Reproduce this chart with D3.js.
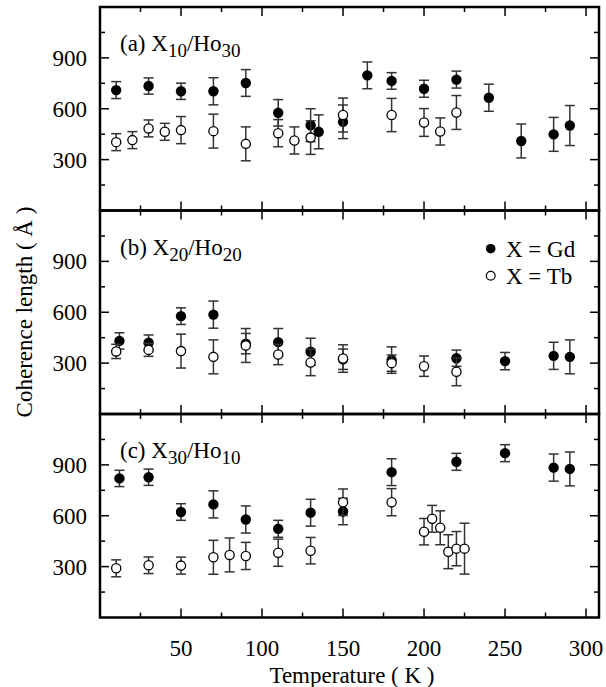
<!DOCTYPE html>
<html>
<head>
<meta charset="utf-8">
<script src="https://cdn.jsdelivr.net/npm/d3@7"></script>
<style>
  html, body { margin: 0; padding: 0; background: #fff; }
  svg text { font-family: "Liberation Serif", "Times New Roman", "DejaVu Serif", serif; fill: #000; }
</style>
</head>
<body>
<svg id="chart" width="606" height="687"></svg>
<script>
// ---- data: [temperature K, coherence length Å, error Å] ----
const gdA = [[10,710,50],[30,734,48],[50,703,48],[70,703,80],[90,752,79],[110,576,78],[130,503,97],[135,464,100],[150,523,99],[165,797,79],[180,764,49],[200,718,50],[220,772,50],[240,665,80],[260,410,100],[280,449,100],[290,501,118]];
const tbA = [[10,403,50],[20,415,50],[30,484,50],[40,464,50],[50,474,80],[70,468,100],[90,393,100],[110,456,80],[120,413,80],[130,430,99],[150,563,100],[180,563,98],[200,519,82],[210,466,80],[220,578,100]];
const gdB = [[12,431,48],[30,420,46],[50,577,49],[70,586,80],[90,415,60],[110,424,80],[130,367,80],[150,323,60],[180,318,78],[220,329,48],[250,312,51],[280,343,80],[290,337,100]];
const tbB = [[10,369,42],[30,378,38],[50,371,100],[70,337,100],[90,404,100],[110,351,60],[130,304,78],[150,327,81],[180,300,48],[200,282,60],[220,249,82]];
const gdC = [[12,820,48],[30,827,48],[50,622,49],[70,667,80],[90,578,80],[110,523,50],[130,618,79],[150,625,78],[180,857,79],[220,918,50],[250,969,50],[280,884,80],[290,876,100]];
const tbC = [[10,290,50],[30,308,49],[50,306,50],[70,355,100],[80,369,100],[90,363,80],[110,382,80],[130,394,78],[150,680,78],[180,680,80],[200,506,78],[205,582,79],[210,529,100],[215,388,100],[220,406,101],[225,406,150]];

const panelNames = ["a", "b", "c"];
const panelX = ["10", "20", "30"];
const panelHo = ["30", "20", "10"];
const xTickLabels = [50, 100, 150, 200, 250, 300];
const yTickLabels = [300, 600, 900];
const legendLabels = ["X = Gd", "X = Tb"];
const xTitle = "Temperature ( K )";
const yTitle = "Coherence length ( Å )";

(function () {
  const svg = d3.select("#chart");
  const leftX = 100, rightX = 599, topY = 7, panelH = 203.5;
  const x = d3.scaleLinear().domain([0, 308]).range([leftX, rightX]);
  const panels = [
    { gd: gdA, tb: tbA },
    { gd: gdB, tb: tbB },
    { gd: gdC, tb: tbC }
  ];
  const fs = 23, fsSub = 19;

  panels.forEach((p, i) => {
    const y0 = topY + i * panelH;
    const y = d3.scaleLinear().domain([0, 1200]).range([y0 + panelH, y0]);
    const g = svg.append("g");

    const xMajor = d3.range(50, 309, 50), xMinor = d3.range(25, 309, 50);
    const yMajor = d3.range(300, 1200, 300), yMinor = d3.range(150, 1200, 300);
    const tick = (x1, y1, x2, y2) => g.append("line").attr("x1", x1).attr("y1", y1).attr("x2", x2).attr("y2", y2)
        .attr("stroke", "#000").attr("stroke-width", 1.5);
    xMajor.forEach(t => { tick(x(t), y0, x(t), y0 + 9); tick(x(t), y0 + panelH, x(t), y0 + panelH - 9); });
    xMinor.forEach(t => { tick(x(t), y0, x(t), y0 + 5); tick(x(t), y0 + panelH, x(t), y0 + panelH - 5); });
    yMajor.forEach(v => { tick(leftX, y(v), leftX + 9, y(v)); tick(rightX, y(v), rightX - 9, y(v)); });
    yMinor.forEach(v => { tick(leftX, y(v), leftX + 5, y(v)); tick(rightX, y(v), rightX - 5, y(v)); });

    yTickLabels.forEach(v => {
      g.append("text").attr("x", 87).attr("y", y(v)).attr("dy", "0.35em")
        .attr("text-anchor", "end").attr("font-size", fs).text(v);
    });

    g.append("rect").attr("x", leftX).attr("y", y0).attr("width", rightX - leftX).attr("height", panelH)
      .attr("fill", "none").attr("stroke", "#000").attr("stroke-width", 2.5);

    const lab = g.append("text").attr("x", 120).attr("y", y0 + 44).attr("font-size", fs);
    lab.append("tspan").text("(" + panelNames[i] + ") X");
    lab.append("tspan").attr("font-size", fsSub).attr("dy", 6).text(panelX[i]);
    lab.append("tspan").attr("dy", -6).text("/Ho");
    lab.append("tspan").attr("font-size", fsSub).attr("dy", 6).text(panelHo[i]);

    const drawSeries = (data, filled) => {
      const s = g.append("g");
      data.forEach(d => {
        const cx = x(d[0]);
        s.append("line").attr("x1", cx).attr("x2", cx).attr("y1", y(d[1] - d[2])).attr("y2", y(d[1] + d[2]))
          .attr("stroke", "#333").attr("stroke-width", 1.5);
        [d[1] - d[2], d[1] + d[2]].forEach(v => {
          s.append("line").attr("x1", cx - 5).attr("x2", cx + 5).attr("y1", y(v)).attr("y2", y(v))
            .attr("stroke", "#333").attr("stroke-width", 1.5);
        });
      });
      s.selectAll("circle").data(data).enter().append("circle")
        .attr("cx", d => x(d[0])).attr("cy", d => y(d[1]))
        .attr("r", filled ? 5.2 : 4.6)
        .attr("fill", filled ? "#000" : "#fff")
        .attr("stroke", "#000").attr("stroke-width", filled ? 0 : 1.3);
    };
    drawSeries(p.gd, true);
    drawSeries(p.tb, false);

    if (i === 1) {
      const lx = 490.7;
      [[248.7, true], [275.7, false]].forEach((e, k) => {
        g.append("circle").attr("cx", lx).attr("cy", e[0]).attr("r", e[1] ? 4.8 : 4.4)
          .attr("fill", e[1] ? "#000" : "#fff").attr("stroke", "#000").attr("stroke-width", e[1] ? 0 : 1.2);
        g.append("text").attr("x", 506).attr("y", e[0]).attr("dy", "0.36em").attr("font-size", fs).text(legendLabels[k]);
      });
    }
  });

  xTickLabels.forEach(t => {
    svg.append("text").attr("x", x(t)).attr("y", 656).attr("text-anchor", "middle").attr("font-size", fs).text(t);
  });

  svg.append("text").attr("x", 352).attr("y", 683).attr("text-anchor", "middle").attr("font-size", fs).text(xTitle);
  svg.append("text").attr("transform", "translate(32,312) rotate(-90)").attr("text-anchor", "middle")
    .attr("font-size", fs).text(yTitle);
})();
</script>
</body>
</html>
